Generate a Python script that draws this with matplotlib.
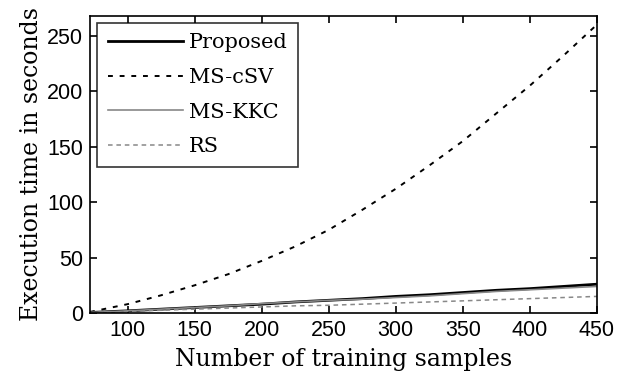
import matplotlib.pyplot as plt

# 训练样本数
samples = [72, 100, 125, 150, 175, 200, 225, 250, 275, 300, 325, 350, 375, 400, 425, 450]

# 各方法执行时间 (秒)
proposed = [0.5, 2, 3.5, 5, 6.5, 8, 10, 11.5, 13, 15, 16.5, 18.5, 20.5, 22, 24, 26]
ms_csv = [1, 8, 16, 25, 35, 47, 60, 75, 93, 112, 133, 155, 180, 205, 232, 260]
ms_kkc = [0.5, 2, 3.5, 5, 6.5, 8.5, 10, 11.5, 12.5, 14, 15.5, 17.5, 19.5, 21, 22.5, 24]
rs = [0.3, 1.5, 2.5, 3.5, 4.5, 5.5, 6.5, 7, 8, 9, 10, 11, 12, 13, 14, 15]

fig = plt.figure(figsize=(6.18, 3.79), dpi=100)
ax = fig.add_axes([0.1456, 0.174, 0.8204, 0.7846])

ax.plot(samples, proposed, color='black', linewidth=2.0, label='Proposed')
ax.plot(samples, ms_csv, color='black', linestyle=(0, (2.5, 3.5)), linewidth=1.4, label='MS-cSV')
ax.plot(samples, ms_kkc, color='#888888', linewidth=1.2, label='MS-KKC')
ax.plot(samples, rs, color='#888888', linestyle=(0, (3, 2.5)), linewidth=1.1, label='RS')

ax.set_xlim(72, 450)
ax.set_ylim(0, 268)
ax.set_xticks([100, 150, 200, 250, 300, 350, 400, 450])
ax.set_yticks([0, 50, 100, 150, 200, 250])

ax.tick_params(direction='in', top=True, right=True, length=5, width=1.2, labelsize=15.5, pad=5)
for lab in ax.get_xticklabels() + ax.get_yticklabels():
    lab.set_fontfamily('Liberation Sans')
for sp in ax.spines.values():
    sp.set_linewidth(1.2)

ax.set_xlabel('Number of training samples', fontsize=17, family='DejaVu Serif', labelpad=5)
ax.set_ylabel('Execution time in seconds', fontsize=17, family='DejaVu Serif', labelpad=3)

leg = ax.legend(loc='upper left', prop={'family': 'DejaVu Serif', 'size': 15},
                frameon=True, fancybox=False, edgecolor='black', handlelength=3.6,
                labelspacing=0.75, borderaxespad=0.35, handletextpad=0.3,
                borderpad=0.5)
leg.get_frame().set_linewidth(1.2)

fig.savefig('out.png', dpi=100)
